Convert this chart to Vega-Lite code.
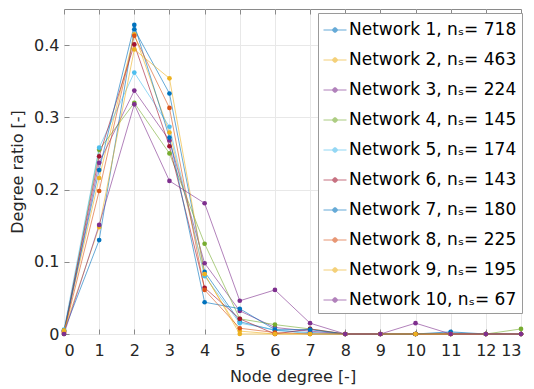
{
  "$schema": "https://vega.github.io/schema/vega-lite/v6.json",
  "width": 457,
  "height": 325,
  "autosize": "none",
  "padding": {"left": 64, "top": 9, "right": 13, "bottom": 55},
  "background": "white",
  "config": {
    "font": "DejaVu Sans",
    "view": {"stroke": "#8a8a8a", "strokeWidth": 1},
    "axis": {
      "labelFont": "DejaVu Sans",
      "titleFont": "DejaVu Sans",
      "labelFontSize": 16,
      "titleFontSize": 16,
      "titleFontWeight": "normal",
      "labelColor": "#262626",
      "titleColor": "#262626",
      "gridColor": "#e8e8e8",
      "domain": false,
      "tickColor": "#8a8a8a",
      "tickSize": -5
    }
  },
  "data": {"values": [
    {"net": "Network 1, nₛ= 718", "d": 0, "r": 0.004}, {"net": "Network 1, nₛ= 718", "d": 1, "r": 0.130}, {"net": "Network 1, nₛ= 718", "d": 2, "r": 0.422}, {"net": "Network 1, nₛ= 718", "d": 3, "r": 0.333}, {"net": "Network 1, nₛ= 718", "d": 4, "r": 0.086}, {"net": "Network 1, nₛ= 718", "d": 5, "r": 0.017}, {"net": "Network 1, nₛ= 718", "d": 6, "r": 0.005}, {"net": "Network 1, nₛ= 718", "d": 7, "r": 0.002}, {"net": "Network 1, nₛ= 718", "d": 8, "r": 0}, {"net": "Network 1, nₛ= 718", "d": 9, "r": 0}, {"net": "Network 1, nₛ= 718", "d": 10, "r": 0}, {"net": "Network 1, nₛ= 718", "d": 11, "r": 0.0014}, {"net": "Network 1, nₛ= 718", "d": 12, "r": 0}, {"net": "Network 1, nₛ= 718", "d": 13, "r": 0},
    {"net": "Network 2, nₛ= 463", "d": 0, "r": 0.004}, {"net": "Network 2, nₛ= 463", "d": 1, "r": 0.216}, {"net": "Network 2, nₛ= 463", "d": 2, "r": 0.415}, {"net": "Network 2, nₛ= 463", "d": 3, "r": 0.279}, {"net": "Network 2, nₛ= 463", "d": 4, "r": 0.082}, {"net": "Network 2, nₛ= 463", "d": 5, "r": 0.004}, {"net": "Network 2, nₛ= 463", "d": 6, "r": 0}, {"net": "Network 2, nₛ= 463", "d": 7, "r": 0}, {"net": "Network 2, nₛ= 463", "d": 8, "r": 0}, {"net": "Network 2, nₛ= 463", "d": 9, "r": 0}, {"net": "Network 2, nₛ= 463", "d": 10, "r": 0}, {"net": "Network 2, nₛ= 463", "d": 11, "r": 0}, {"net": "Network 2, nₛ= 463", "d": 12, "r": 0}, {"net": "Network 2, nₛ= 463", "d": 13, "r": 0},
    {"net": "Network 3, nₛ= 224", "d": 0, "r": 0}, {"net": "Network 3, nₛ= 224", "d": 1, "r": 0.237}, {"net": "Network 3, nₛ= 224", "d": 2, "r": 0.337}, {"net": "Network 3, nₛ= 224", "d": 3, "r": 0.268}, {"net": "Network 3, nₛ= 224", "d": 4, "r": 0.098}, {"net": "Network 3, nₛ= 224", "d": 5, "r": 0.032}, {"net": "Network 3, nₛ= 224", "d": 6, "r": 0.009}, {"net": "Network 3, nₛ= 224", "d": 7, "r": 0.004}, {"net": "Network 3, nₛ= 224", "d": 8, "r": 0}, {"net": "Network 3, nₛ= 224", "d": 9, "r": 0}, {"net": "Network 3, nₛ= 224", "d": 10, "r": 0}, {"net": "Network 3, nₛ= 224", "d": 11, "r": 0}, {"net": "Network 3, nₛ= 224", "d": 12, "r": 0}, {"net": "Network 3, nₛ= 224", "d": 13, "r": 0},
    {"net": "Network 4, nₛ= 145", "d": 0, "r": 0}, {"net": "Network 4, nₛ= 145", "d": 1, "r": 0.255}, {"net": "Network 4, nₛ= 145", "d": 2, "r": 0.320}, {"net": "Network 4, nₛ= 145", "d": 3, "r": 0.250}, {"net": "Network 4, nₛ= 145", "d": 4, "r": 0.125}, {"net": "Network 4, nₛ= 145", "d": 5, "r": 0.021}, {"net": "Network 4, nₛ= 145", "d": 6, "r": 0.013}, {"net": "Network 4, nₛ= 145", "d": 7, "r": 0.007}, {"net": "Network 4, nₛ= 145", "d": 8, "r": 0}, {"net": "Network 4, nₛ= 145", "d": 9, "r": 0}, {"net": "Network 4, nₛ= 145", "d": 10, "r": 0}, {"net": "Network 4, nₛ= 145", "d": 11, "r": 0}, {"net": "Network 4, nₛ= 145", "d": 12, "r": 0}, {"net": "Network 4, nₛ= 145", "d": 13, "r": 0.007},
    {"net": "Network 5, nₛ= 174", "d": 0, "r": 0.006}, {"net": "Network 5, nₛ= 174", "d": 1, "r": 0.258}, {"net": "Network 5, nₛ= 174", "d": 2, "r": 0.362}, {"net": "Network 5, nₛ= 174", "d": 3, "r": 0.287}, {"net": "Network 5, nₛ= 174", "d": 4, "r": 0.080}, {"net": "Network 5, nₛ= 174", "d": 5, "r": 0.015}, {"net": "Network 5, nₛ= 174", "d": 6, "r": 0.006}, {"net": "Network 5, nₛ= 174", "d": 7, "r": 0}, {"net": "Network 5, nₛ= 174", "d": 8, "r": 0}, {"net": "Network 5, nₛ= 174", "d": 9, "r": 0}, {"net": "Network 5, nₛ= 174", "d": 10, "r": 0}, {"net": "Network 5, nₛ= 174", "d": 11, "r": 0}, {"net": "Network 5, nₛ= 174", "d": 12, "r": 0}, {"net": "Network 5, nₛ= 174", "d": 13, "r": 0},
    {"net": "Network 6, nₛ= 143", "d": 0, "r": 0.003}, {"net": "Network 6, nₛ= 143", "d": 1, "r": 0.246}, {"net": "Network 6, nₛ= 143", "d": 2, "r": 0.401}, {"net": "Network 6, nₛ= 143", "d": 3, "r": 0.260}, {"net": "Network 6, nₛ= 143", "d": 4, "r": 0.064}, {"net": "Network 6, nₛ= 143", "d": 5, "r": 0.021}, {"net": "Network 6, nₛ= 143", "d": 6, "r": 0}, {"net": "Network 6, nₛ= 143", "d": 7, "r": 0.007}, {"net": "Network 6, nₛ= 143", "d": 8, "r": 0}, {"net": "Network 6, nₛ= 143", "d": 9, "r": 0}, {"net": "Network 6, nₛ= 143", "d": 10, "r": 0}, {"net": "Network 6, nₛ= 143", "d": 11, "r": 0}, {"net": "Network 6, nₛ= 143", "d": 12, "r": 0}, {"net": "Network 6, nₛ= 143", "d": 13, "r": 0},
    {"net": "Network 7, nₛ= 180", "d": 0, "r": 0.005}, {"net": "Network 7, nₛ= 180", "d": 1, "r": 0.227}, {"net": "Network 7, nₛ= 180", "d": 2, "r": 0.428}, {"net": "Network 7, nₛ= 180", "d": 3, "r": 0.272}, {"net": "Network 7, nₛ= 180", "d": 4, "r": 0.044}, {"net": "Network 7, nₛ= 180", "d": 5, "r": 0.035}, {"net": "Network 7, nₛ= 180", "d": 6, "r": 0.006}, {"net": "Network 7, nₛ= 180", "d": 7, "r": 0.006}, {"net": "Network 7, nₛ= 180", "d": 8, "r": 0}, {"net": "Network 7, nₛ= 180", "d": 9, "r": 0}, {"net": "Network 7, nₛ= 180", "d": 10, "r": 0}, {"net": "Network 7, nₛ= 180", "d": 11, "r": 0.003}, {"net": "Network 7, nₛ= 180", "d": 12, "r": 0}, {"net": "Network 7, nₛ= 180", "d": 13, "r": 0},
    {"net": "Network 8, nₛ= 225", "d": 0, "r": 0.002}, {"net": "Network 8, nₛ= 225", "d": 1, "r": 0.198}, {"net": "Network 8, nₛ= 225", "d": 2, "r": 0.413}, {"net": "Network 8, nₛ= 225", "d": 3, "r": 0.313}, {"net": "Network 8, nₛ= 225", "d": 4, "r": 0.061}, {"net": "Network 8, nₛ= 225", "d": 5, "r": 0.008}, {"net": "Network 8, nₛ= 225", "d": 6, "r": 0.002}, {"net": "Network 8, nₛ= 225", "d": 7, "r": 0}, {"net": "Network 8, nₛ= 225", "d": 8, "r": 0}, {"net": "Network 8, nₛ= 225", "d": 9, "r": 0}, {"net": "Network 8, nₛ= 225", "d": 10, "r": 0}, {"net": "Network 8, nₛ= 225", "d": 11, "r": 0}, {"net": "Network 8, nₛ= 225", "d": 12, "r": 0}, {"net": "Network 8, nₛ= 225", "d": 13, "r": 0},
    {"net": "Network 9, nₛ= 195", "d": 0, "r": 0.005}, {"net": "Network 9, nₛ= 195", "d": 1, "r": 0.148}, {"net": "Network 9, nₛ= 195", "d": 2, "r": 0.394}, {"net": "Network 9, nₛ= 195", "d": 3, "r": 0.354}, {"net": "Network 9, nₛ= 195", "d": 4, "r": 0.083}, {"net": "Network 9, nₛ= 195", "d": 5, "r": 0}, {"net": "Network 9, nₛ= 195", "d": 6, "r": 0}, {"net": "Network 9, nₛ= 195", "d": 7, "r": 0}, {"net": "Network 9, nₛ= 195", "d": 8, "r": 0}, {"net": "Network 9, nₛ= 195", "d": 9, "r": 0}, {"net": "Network 9, nₛ= 195", "d": 10, "r": 0}, {"net": "Network 9, nₛ= 195", "d": 11, "r": 0}, {"net": "Network 9, nₛ= 195", "d": 12, "r": 0}, {"net": "Network 9, nₛ= 195", "d": 13, "r": 0},
    {"net": "Network 10, nₛ= 67", "d": 0, "r": 0}, {"net": "Network 10, nₛ= 67", "d": 1, "r": 0.151}, {"net": "Network 10, nₛ= 67", "d": 2, "r": 0.318}, {"net": "Network 10, nₛ= 67", "d": 3, "r": 0.212}, {"net": "Network 10, nₛ= 67", "d": 4, "r": 0.181}, {"net": "Network 10, nₛ= 67", "d": 5, "r": 0.046}, {"net": "Network 10, nₛ= 67", "d": 6, "r": 0.061}, {"net": "Network 10, nₛ= 67", "d": 7, "r": 0.015}, {"net": "Network 10, nₛ= 67", "d": 8, "r": 0}, {"net": "Network 10, nₛ= 67", "d": 9, "r": 0}, {"net": "Network 10, nₛ= 67", "d": 10, "r": 0.015}, {"net": "Network 10, nₛ= 67", "d": 11, "r": 0}, {"net": "Network 10, nₛ= 67", "d": 12, "r": 0}, {"net": "Network 10, nₛ= 67", "d": 13, "r": 0}
  ]},
  "encoding": {
    "x": {"field": "d", "type": "quantitative", "scale": {"domain": [0, 13], "nice": false, "zero": false}},
    "y": {"field": "r", "type": "quantitative", "scale": {"domain": [0, 0.45], "nice": false}},
    "color": {
      "field": "net", "type": "nominal",
      "scale": {
        "domain": ["Network 1, nₛ= 718", "Network 2, nₛ= 463", "Network 3, nₛ= 224", "Network 4, nₛ= 145", "Network 5, nₛ= 174", "Network 6, nₛ= 143", "Network 7, nₛ= 180", "Network 8, nₛ= 225", "Network 9, nₛ= 195", "Network 10, nₛ= 67"],
        "range": ["#0072BD", "#EDB120", "#7E2F8E", "#77AC30", "#4DBEEE", "#A2142F", "#0072BD", "#D95319", "#EDB120", "#7E2F8E"]
      }
    }
  },
  "layer": [
    {
      "mark": {"type": "line", "strokeWidth": 1, "opacity": 0.6},
      "encoding": {
        "x": {"field": "d", "type": "quantitative", "axis": {"title": "Node degree [-]", "values": [0,1,2,3,4,5,6,7,8,9,10,11,12,13], "format": "d", "labelPadding": 13, "titlePadding": 10, "gridColor": "#e8e8e8"}},
        "y": {"field": "r", "type": "quantitative", "axis": {"title": "Degree ratio [-]", "values": [0, 0.1, 0.2, 0.3, 0.4], "format": ".1~f", "labelPadding": 10, "titlePadding": 8}},
        "color": {
          "field": "net", "type": "nominal",
          "legend": {
            "title": null,
            "orient": "none",
            "legendX": 254,
            "legendY": 4,
            "labelFont": "DejaVu Sans",
            "labelFontSize": 17,
            "labelColor": "#000000",
            "labelLimit": 400,
            "labelOffset": 2,
            "symbolType": "M-1,0H1M-0.2,0A0.2,0.2 0 1,0 0.2,0A0.2,0.2 0 1,0 -0.2,0Z",
            "symbolSize": 529,
            "symbolStrokeWidth": 1,
            "rowPadding": 10,
            "padding": 5,
            "fillColor": "white",
            "strokeColor": "#9a9a9a"
          }
        }
      }
    },
    {
      "mark": {"type": "point", "filled": true, "size": 22, "opacity": 1},
      "encoding": {
        "x": {"field": "d", "type": "quantitative", "axis": {"orient": "top", "labels": false, "title": null, "grid": false, "values": [0,1,2,3,4,5,6,7,8,9,10,11,12,13]}},
        "y": {"field": "r", "type": "quantitative", "axis": {"orient": "right", "labels": false, "title": null, "grid": false, "values": [0, 0.1, 0.2, 0.3, 0.4]}},
        "color": {"field": "net", "type": "nominal", "legend": null}
      }
    }
  ],
  "resolve": {"axis": {"x": "independent", "y": "independent"}}
}
